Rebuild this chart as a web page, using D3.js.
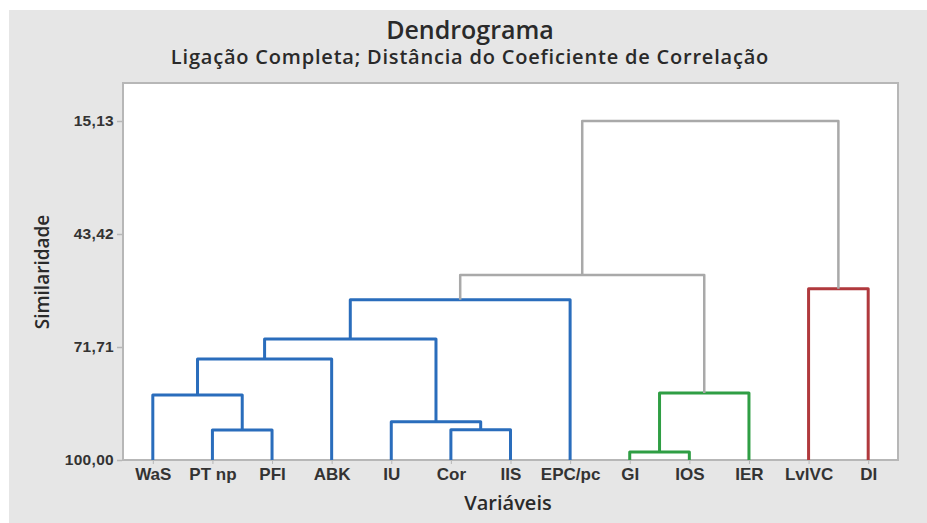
<!doctype html>
<html lang="pt">
<head>
  <meta charset="utf-8">
  <title>Dendrograma</title>
  <style>
    html, body { margin: 0; padding: 0; background: #fff; }
    svg { display: block; font-family: "Open Sans", "Noto Sans", sans-serif; }
  </style>
</head>
<body>
  <div id="chart"></div>
  <script src="https://cdn.jsdelivr.net/npm/d3@7"></script>
  <script>
    // Data ---------------------------------------------------------------------
    const leaves = ["WaS", "PT np", "PFI", "ABK", "IU", "Cor", "IIS", "EPC/pc", "GI", "IOS", "IER", "LvlVC", "DI"];

    // each merge: [left node, right node, similarity]; nodes 0..12 are leaves, 13+ are merges in order
    const merges = [
      [1, 2, 92.5],
      [0, 13, 83.7],
      [14, 3, 74.7],
      [5, 6, 92.4],
      [4, 16, 90.4],
      [15, 17, 69.7],
      [18, 7, 59.9],
      [8, 9, 98.0],
      [20, 10, 83.2],
      [19, 21, 53.7],
      [11, 12, 57.1],
      [22, 23, 15.13]
    ];
    const mergeGroup = ["blue", "blue", "blue", "blue", "blue", "blue", "blue", "green", "green", "gray", "red", "gray"];

    const yTicks = [15.13, 43.42, 71.71, 100.00];

    // Layout -------------------------------------------------------------------
    const width = 927;
    const height = 523;
    const plot = { left: 123, right: 898, top: 83, bottom: 460 };
    const colors = { blue: "#2a6dbc", green: "#2f9e44", red: "#b0393d", gray: "#a9a9a9" };

    const svg = d3.select("#chart")
      .append("svg")
      .attr("width", width)
      .attr("height", height);

    svg.append("rect")
      .attr("x", 9).attr("y", 10)
      .attr("width", width - 9).attr("height", height - 10)
      .attr("fill", "#e6e6e6");

    svg.append("rect")
      .attr("x", plot.left).attr("y", plot.top)
      .attr("width", plot.right - plot.left).attr("height", plot.bottom - plot.top)
      .attr("fill", "#fff")
      .attr("stroke", "#b7b7b7")
      .attr("stroke-width", 2);

    // Scales -------------------------------------------------------------------
    const x = d3.scalePoint()
      .domain(leaves)
      .range([plot.left, plot.right])
      .padding(0.5);

    const pxPerUnit = (plot.bottom - 121) / (100 - 15.13);
    const y = d3.scaleLinear()
      .domain([100, 100 - (plot.bottom - plot.top) / pxPerUnit])
      .range([plot.bottom, plot.top]);

    // Axes ---------------------------------------------------------------------
    const yAxis = svg.append("g")
      .attr("transform", "translate(" + (plot.left - 1) + ",0)")
      .call(d3.axisLeft(y)
        .tickValues(yTicks)
        .tickSize(5)
        .tickPadding(3)
        .tickFormat(d => d3.format(".2f")(d).replace(".", ",")));

    yAxis.select(".domain").remove();
    yAxis.selectAll("line").attr("stroke", "#b7b7b7").attr("stroke-width", 1.5);
    yAxis.selectAll("text")
      .attr("fill", "#333")
      .style("font-size", "15.5px")
      .style("font-weight", "700")
      .style("letter-spacing", "0.3px");

    const xAxis = svg.append("g")
      .attr("transform", "translate(0," + (plot.bottom + 1) + ")")
      .call(d3.axisBottom(x).tickSize(3).tickPadding(4));

    xAxis.select(".domain").remove();
    xAxis.selectAll("line").attr("stroke", "#b7b7b7");
    xAxis.selectAll("text")
      .attr("fill", "#333")
      .style("font-size", "17px")
      .style("font-weight", "700");

    // Dendrogram ---------------------------------------------------------------
    const nodeX = leaves.map(d => x(d));
    const nodeH = leaves.map(() => 100);

    merges.forEach(([a, b, h], i) => {
      const xa = nodeX[a], xb = nodeX[b];
      const path = d3.path();
      path.moveTo(xa, y(nodeH[a]));
      path.lineTo(xa, y(h));
      path.lineTo(xb, y(h));
      path.lineTo(xb, y(nodeH[b]));

      const grp = mergeGroup[i];
      svg.append("path")
        .attr("d", path.toString())
        .attr("fill", "none")
        .attr("stroke", colors[grp])
        .attr("stroke-width", grp === "gray" ? 2.5 : 3)
        .attr("stroke-linejoin", "round");

      nodeX.push((xa + xb) / 2);
      nodeH.push(h);
    });

    // Titles -------------------------------------------------------------------
    svg.append("text")
      .attr("x", 470).attr("y", 39)
      .attr("text-anchor", "middle")
      .attr("fill", "#2a2a2a")
      .style("font-size", "25px")
      .style("font-weight", "600")
      .text("Dendrograma");

    svg.append("text")
      .attr("x", 470).attr("y", 64)
      .attr("text-anchor", "middle")
      .attr("fill", "#2a2a2a")
      .style("font-size", "20px")
      .style("font-weight", "600")
      .style("letter-spacing", "0.8px")
      .text("Ligação Completa; Distância do Coeficiente de Correlação");

    svg.append("text")
      .attr("x", 508).attr("y", 510)
      .attr("text-anchor", "middle")
      .attr("fill", "#2a2a2a")
      .style("font-size", "20px")
      .style("font-weight", "600")
      .text("Variáveis");

    svg.append("text")
      .attr("transform", "translate(49,272) rotate(-90)")
      .attr("text-anchor", "middle")
      .attr("fill", "#2a2a2a")
      .style("font-size", "19px")
      .style("font-weight", "600")
      .text("Similaridade");
  </script>
</body>
</html>
